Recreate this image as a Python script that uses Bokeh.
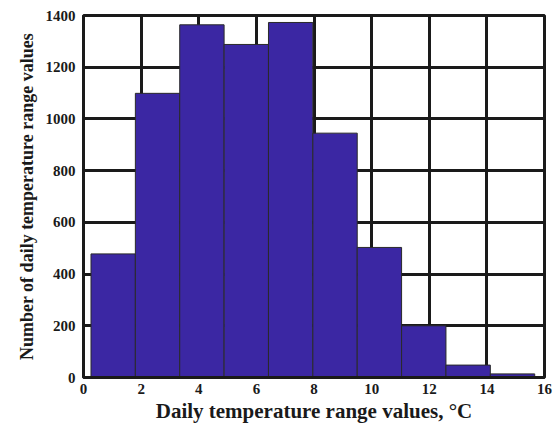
from bokeh.plotting import figure
from bokeh.models import Range1d, FixedTicker
from bokeh.embed import file_html
from bokeh.resources import INLINE

bin_left = [0.26, 1.80, 3.34, 4.88, 6.42, 7.96, 9.50, 11.04, 12.58, 14.12]
bin_right = [1.80, 3.34, 4.88, 6.42, 7.96, 9.50, 11.04, 12.58, 14.12, 15.66]
counts = [478, 1099, 1364, 1288, 1373, 945, 503, 200, 48, 14]
x_ticks = [0, 2, 4, 6, 8, 10, 12, 14, 16]
y_ticks = [0, 200, 400, 600, 800, 1000, 1200, 1400]

p = figure(width=553, height=429, output_backend="svg", toolbar_location=None,
           x_range=Range1d(0, 16), y_range=Range1d(0, 1400),
           min_border_left=83, min_border_right=9, min_border_top=15, min_border_bottom=52)

p.quad(left=bin_left, right=bin_right, bottom=0, top=counts,
       fill_color="#3B27A3", line_color="#2a2a2a", line_width=1)

font = "Liberation Serif"
for ax in (p.xaxis, p.yaxis):
    ax.axis_line_width = 3
    ax.axis_line_color = "#1a1a1a"
    ax.major_tick_in = 0
    ax.major_tick_out = 0
    ax.minor_tick_in = 0
    ax.minor_tick_out = 0
    ax.major_label_text_font = font
    ax.major_label_text_font_style = "bold"
    ax.major_label_text_font_size = "15px"
    ax.major_label_text_color = "#1a1a1a"
    ax.axis_label_text_font = font
    ax.axis_label_text_font_style = "bold"
    ax.axis_label_text_color = "#1a1a1a"

p.xaxis.ticker = FixedTicker(ticks=x_ticks)
p.yaxis.ticker = FixedTicker(ticks=y_ticks)
p.xaxis.axis_label = "Daily temperature range values, °C"
p.yaxis.axis_label = "Number of daily temperature range values"
p.xaxis.axis_label_text_font_size = "21px"
p.yaxis.axis_label_text_font_size = "18px"
p.xaxis.major_label_standoff = 6
p.yaxis.major_label_standoff = 8
p.xaxis.axis_label_standoff = 2
p.yaxis.axis_label_standoff = 6

p.xgrid.ticker = FixedTicker(ticks=x_ticks)
p.ygrid.ticker = FixedTicker(ticks=y_ticks)
for g in (p.xgrid, p.ygrid):
    g.grid_line_color = "#1a1a1a"
    g.grid_line_width = 3
    g.grid_line_alpha = 1.0

p.outline_line_color = "#1a1a1a"
p.outline_line_width = 3
p.outline_line_alpha = 1.0
p.background_fill_color = "white"
p.border_fill_color = "white"

open("out.html", "w").write(file_html(p, INLINE))
